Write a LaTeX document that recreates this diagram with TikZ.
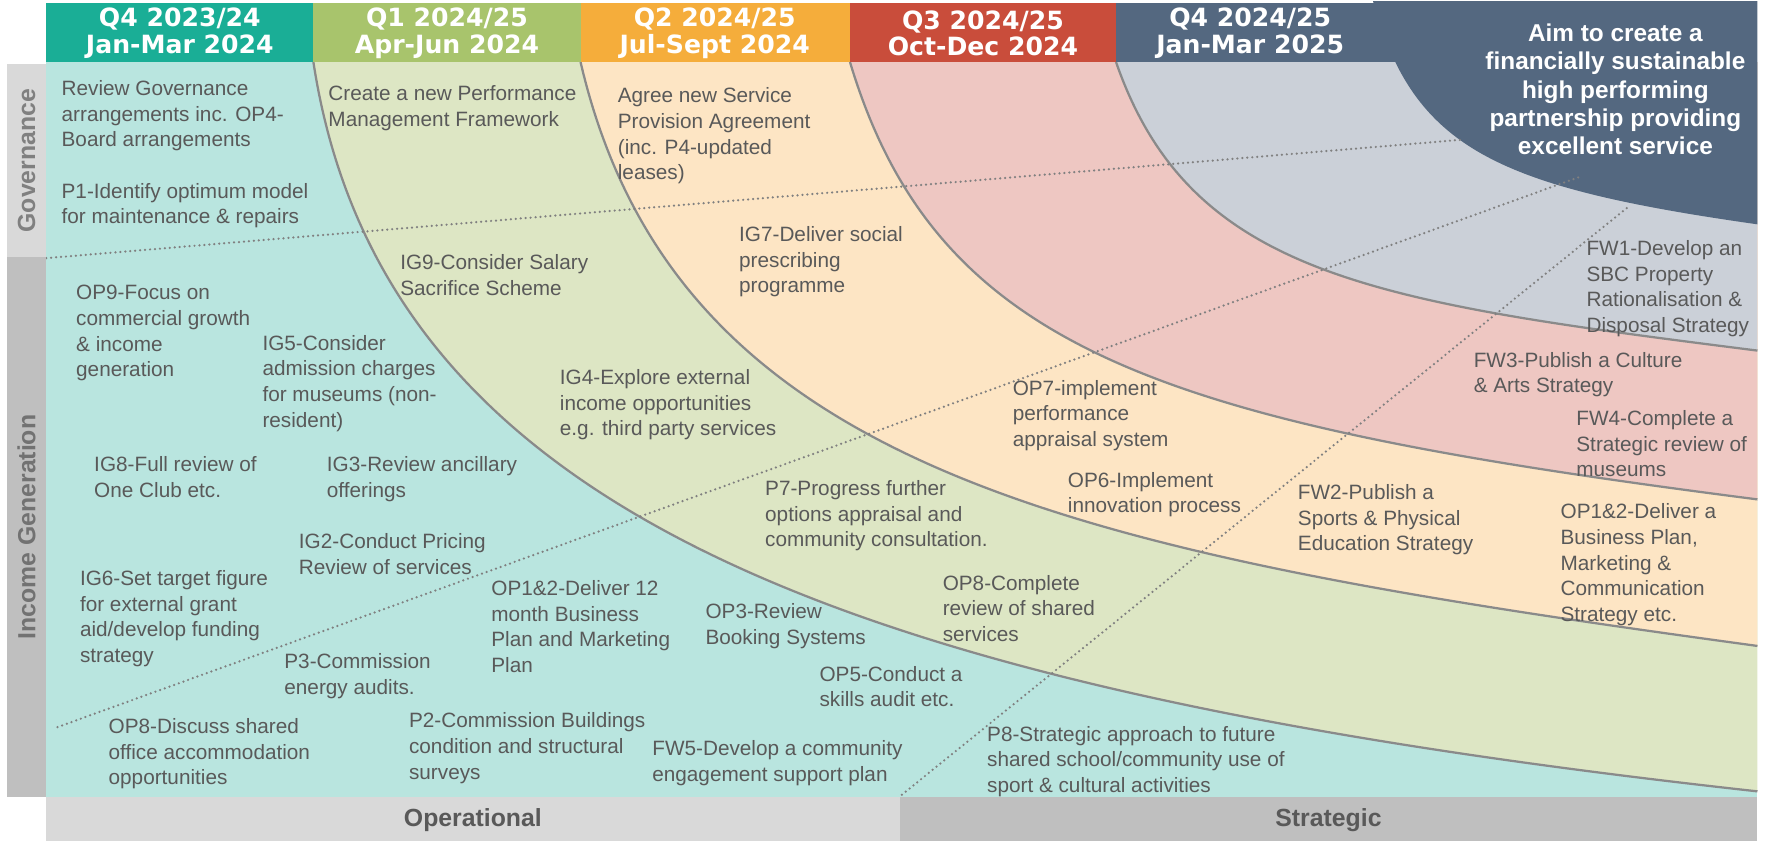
\documentclass[tikz,border=0pt]{standalone}
\usepackage{fontspec}
\setmainfont{Liberation Sans}
\newfontfamily\hdrfont{DejaVu Sans}
\definecolor{hTeal}{RGB}{26,174,150}
\definecolor{hGreen}{RGB}{168,196,108}
\definecolor{hOrange}{RGB}{245,173,59}
\definecolor{hRed}{RGB}{201,77,59}
\definecolor{hSlate}{RGB}{84,104,128}
\definecolor{rTeal}{RGB}{185,229,223}
\definecolor{rGreen}{RGB}{221,230,196}
\definecolor{rOrange}{RGB}{253,229,196}
\definecolor{rRed}{RGB}{238,199,194}
\definecolor{rGrey}{RGB}{203,208,216}
\definecolor{txt}{RGB}{89,89,89}
\definecolor{lbLight}{RGB}{217,217,217}
\definecolor{lbDark}{RGB}{191,191,191}
\definecolor{arcline}{RGB}{138,138,138}
\definecolor{dotline}{RGB}{128,128,128}
\tikzset{
  body/.style={anchor=north west, inner sep=0pt, align=left, text=txt,
    font=\fontsize{9.2}{11.35}\selectfont},
  hdr/.style={inner sep=0pt, align=center, text=white,
    font=\hdrfont\bfseries\fontsize{11.15}{11.9}\selectfont},
  aim/.style={anchor=north, inner sep=0pt, align=center, text=white,
    font=\bfseries\fontsize{10.8}{12.5}\selectfont},
  sidelbl/.style={inner sep=0pt, rotate=90, font=\bfseries\fontsize{11}{13}\selectfont},
  barlbl/.style={inner sep=0pt, text=txt, font=\bfseries\fontsize{11}{13}\selectfont},
  arcstroke/.style={draw=arcline, line width=1pt},
  dotstroke/.style={draw=dotline, line width=1.1pt, line cap=round, dash pattern=on 0pt off 2.2pt},
}
\begin{document}
\begin{tikzpicture}[x=0.5pt, y=-0.5pt]
\useasboundingbox (0,0) rectangle (1567.5,746);
% background regions
\fill[rTeal] (41,55) rectangle (1559,707);
\fill[rGreen] (278,55) .. controls (340,460) and (760,614) .. (1559,702) -- (1559,55) -- cycle;
\fill[rOrange] (515,55) .. controls (600,420) and (957,491) .. (1559,573) -- (1559,55) -- cycle;
\fill[rRed] (754,55) .. controls (832,315) and (1037,376) .. (1559,443) -- (1559,55) -- cycle;
\fill[rGrey] (990,55) .. controls (1056,245) and (1219,268) .. (1559,311) -- (1559,55) -- cycle;
% arcs
\draw[arcstroke] (278,55) .. controls (340,460) and (760,614) .. (1559,702);
\draw[arcstroke] (515,55) .. controls (600,420) and (957,491) .. (1559,573);
\draw[arcstroke] (754,55) .. controls (832,315) and (1037,376) .. (1559,443);
\draw[arcstroke] (990,55) .. controls (1056,245) and (1219,268) .. (1559,311);
% headers
\fill[hTeal] (41,3) rectangle (278,55);
\fill[hGreen] (278,3) rectangle (515,55);
\fill[hOrange] (515,3) rectangle (754,55);
\fill[hRed] (754,3) rectangle (990,55);
\fill[hSlate] (990,3) rectangle (1240,55);
\fill[hSlate] (1218,1) .. controls (1254,132) and (1327,166) .. (1559,199) -- (1559,1) -- cycle;
\node[hdr] (h1) at (159.5,29.5) {Q4 2023/24\\Jan-Mar 2024};
\node[hdr] (h2) at (396.5,29.5) {Q1 2024/25\\Apr-Jun 2024};
\node[hdr] (h3) at (634,29.5) {Q2 2024/25\\Jul-Sept 2024};
\node[hdr] (h4) at (872,29.5) {Q3 2024/25\\Oct-Dec 2024};
\node[hdr] (h5) at (1109,29.5) {Q4 2024/25\\Jan-Mar 2025};
\node[aim] (aim) at (1433,21) {Aim to create a\\financially sustainable\\high performing\\partnership providing\\excellent service};
% dotted lines
\coordinate (d1a) at (41,229);   \coordinate (d1b) at (1296,124);
\coordinate (d2a) at (51,645);   \coordinate (d2b) at (1401,157);
\coordinate (d3a) at (800,705);  \coordinate (d3b) at (1445,183);
\draw[dotstroke] (d1a) -- (d1b);
\draw[dotstroke] (d2a) -- (d2b);
\draw[dotstroke] (d3a) -- (d3b);
% texts
\node[body] (gov1) at (54.3,71) {Review Governance\\arrangements inc. OP4-\\Board arrangements};
\node[body] (gov2) at (54.3,162) {P1-Identify optimum model\\for maintenance \& repairs};
\node[body] (q1a) at (291,75.4) {Create a new Performance\\Management Framework};
\node[body] (q2a) at (547.7,77.5) {Agree new Service\\Provision Agreement\\(inc. P4-updated\\leases)};
\node[body] (ig9) at (354.7,225.3) {IG9-Consider Salary\\Sacrifice Scheme};
\node[body] (ig7) at (655.3,200.5) {IG7-Deliver social\\prescribing\\programme};
\node[body] (fw1) at (1407,213) {FW1-Develop an\\SBC Property\\Rationalisation \&\\Disposal Strategy};
\node[body] (op9) at (67.2,252.8) {OP9-Focus on\\commercial growth\\\& income\\generation};
\node[body] (ig5) at (232.5,297) {IG5-Consider\\admission charges\\for museums (non-\\resident)};
\node[body] (ig4) at (496.3,327.6) {IG4-Explore external\\income opportunities\\e.g. third party services};
\node[body] (op7) at (898,337) {OP7-implement\\performance\\appraisal system};
\node[body] (fw3) at (1307,312) {FW3-Publish a Culture\\\& Arts Strategy};
\node[body] (fw4) at (1398,363.7) {FW4-Complete a\\Strategic review of\\museums};
\node[body] (ig8) at (83.2,404.5) {IG8-Full review of\\One Club etc.};
\node[body] (ig3) at (289.6,404.5) {IG3-Review ancillary\\offerings};
\node[body] (p7) at (678.4,425.8) {P7-Progress further\\options appraisal and\\community consultation.};
\node[body] (op6) at (947,418.4) {OP6-Implement\\innovation process};
\node[body] (fw2) at (1151,429.3) {FW2-Publish a\\Sports \& Physical\\Education Strategy};
\node[body] (op12b) at (1384,446.5) {OP1\&2-Deliver a\\Business Plan,\\Marketing \&\\Communication\\Strategy etc.};
\node[body] (ig2) at (264.8,473) {IG2-Conduct Pricing\\Review of services};
\node[body] (ig6) at (70.6,505.6) {IG6-Set target figure\\for external grant\\aid/develop funding\\strategy};
\node[body] (op12a) at (435.5,514.5) {OP1\&2-Deliver 12\\month Business\\Plan and Marketing\\Plan};
\node[body] (op3) at (625.5,535.2) {OP3-Review\\Booking Systems};
\node[body] (op8c) at (835.9,510) {OP8-Complete\\review of shared\\services};
\node[body] (p3) at (251.9,579.5) {P3-Commission\\energy audits.};
\node[body] (op5) at (726.6,590.7) {OP5-Conduct a\\skills audit etc.};
\node[body] (op8d) at (96,637) {OP8-Discuss shared\\office accommodation\\opportunities};
\node[body] (p2) at (362.5,632) {P2-Commission Buildings\\condition and structural\\surveys};
\node[body] (fw5) at (578.3,656.4) {FW5-Develop a community\\engagement support plan};
\node[body] (p8) at (875.3,643.7) {P8-Strategic approach to future\\shared school/community use of\\sport \& cultural activities};
% side labels
\fill[lbLight] (6,57) rectangle (41,228);
\fill[lbDark] (6,228) rectangle (41,707);
\node[sidelbl, text=dotline] (lgov) at (23.5,142.5) {Governance};
\node[sidelbl, text=txt!85!white] (linc) at (23.5,467.5) {Income Generation};
% bottom bars
\fill[lbLight] (41,707) rectangle (798,746);
\fill[lbDark] (798,707) rectangle (1559,746);
\node[barlbl] (lop) at (419.5,727.5) {Operational};
\node[barlbl] (lst) at (1178.5,727.5) {Strategic};
\end{tikzpicture}
\end{document}
